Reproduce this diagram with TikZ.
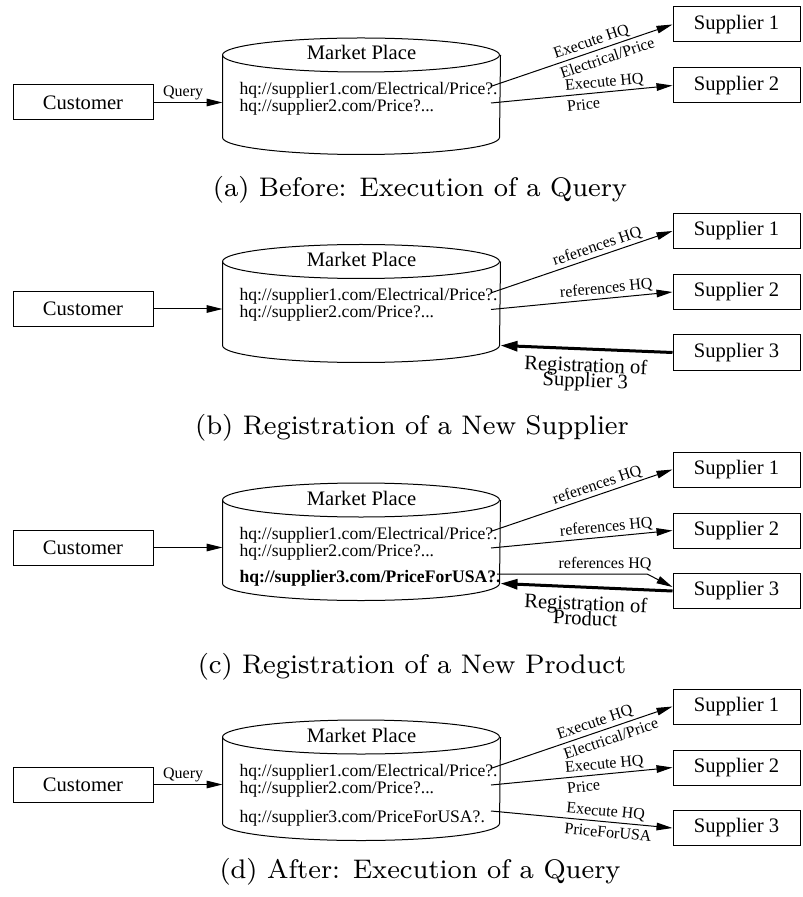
\documentclass[tikz,border=0pt]{standalone}
\usepackage{fontspec}
\newfontfamily\timesfam{Liberation Serif}
\usetikzlibrary{arrows.meta}
\newcommand\boxfont{\timesfam\fontsize{10.3}{12}\selectfont}
\newcommand\urlfont{\timesfam\fontsize{8.8}{10}\selectfont}
\newcommand\urlbold{\timesfam\bfseries\fontsize{8.8}{10}\selectfont}
\newcommand\lblfont{\timesfam\fontsize{8}{10.5}\selectfont}
\newcommand\capfont{\fontsize{8}{9.6}\selectfont}

\begin{document}
\begin{tikzpicture} [x=0.5pt, y=-0.5pt, line width=0.5pt]
    \tikzstyle{every node} = [inner sep=1pt]
    \tikzstyle{party} = [draw, font=\boxfont, minimum width=70pt, minimum height=17.5pt]
    \tikzstyle{supplier} = [draw, font=\boxfont, minimum width=63.5pt, minimum height=17.5pt]
    \tikzstyle{mkt} = [minimum width=138.5pt, inner sep=0pt]
    \tikzstyle{boxtext} = [font=\boxfont, anchor=base]
    \tikzstyle{url} = [font=\urlfont, anchor=base west, inner sep=0pt]
    \tikzstyle{lbl} = [font=\lblfont]
    \tikzstyle{lbl2} = [font=\lblfont, align=left, inner sep=0pt]
    \tikzstyle{regl} = [font=\boxfont, align=center]
    \tikzstyle{subcap} = [font=\capfont, scale=1.68, anchor=base]
    \tikzstyle{arr} = [-{Triangle[length=8pt, width=3.8pt]}]
    \tikzstyle{reg} = [line width=1.5pt, -{Triangle[length=8.5pt, width=5pt]}]
    \useasboundingbox (0,0) rectangle (802,897);

    % common parts of the four panels
    \foreach \p/\y/\h in {a/102.5/34.5, b/309/36, c/547.5/35.5, d/784.5/38.5} {
        \node [party] (cu\p) at (83,\y) {Customer};
        \node [mkt, minimum height={(\h+47)*0.5pt}] (mp\p) at (361.5,{\y+(\h-47)/2}) {};
        \draw (mp\p.north west) arc [start angle=180, end angle=-180, x radius=138.5, y radius=17];
        \draw (mp\p.north west) -- (mp\p.south west)
            arc [start angle=180, end angle=0, x radius=138.5, y radius=17] -- (mp\p.north east);
        \node [boxtext] (ti\p) at (361.5,\y-42.5) {Market Place};
        \node [url] (ua\p) at (239,\y-8) {hq://supplier1.com/Electrical/Price?.};
        \node [url] (ub\p) at (239,\y+9) {hq://supplier2.com/Price?...};
        \node [supplier] (sa\p) at (736.5,\y-78) {Supplier 1};
        \node [supplier] (sb\p) at (736.5,\y-17) {Supplier 2};
        \coordinate (oa\p) at (492,\y-16.5);
        \coordinate (ob\p) at (491,\y+0.5);
    }

    % (a)
    \draw [arr] (cua) -- node [lbl, above, pos=0.43] {Query} (cua -| mpa.west);
    \draw [arr] (oaa) -- node [lbl2, sloped, pos=0.62] {Execute HQ\\Electrical/Price} (saa.west);
    \draw [arr] (oba) -- node [lbl2, sloped, pos=0.63] {Execute HQ\\Price} (sba.west);
    \node [subcap] (capa) at (420,197) {(a) Before: Execution of a Query};

    % (b)
    \node [supplier] (scb) at (736.5,352.5) {Supplier 3};
    \draw [arr] (cub) -- (cub -| mpb.west);
    \draw [arr] (oab) -- node [lbl, sloped, above, pos=0.6] {references HQ} (sab.west);
    \draw [arr] (obb) -- node [lbl, sloped, above, pos=0.64] {references HQ} (sbb.west);
    \draw [reg] (scb.west) -- node [regl, sloped, below=2.5pt, pos=0.5] {Registration of\\[-4.5pt]Supplier 3} (mpb.south east);
    \node [subcap] (capb) at (412,434.5) {(b) Registration of a New Supplier};

    % (c)
    \node [supplier] (scc) at (736.5,591) {Supplier 3};
    \node [url, font=\urlbold] (ucc) at (239,582.5) {hq://supplier3.com/PriceForUSA?.};
    \coordinate (occ) at (497,574);
    \coordinate (kcc) at (647,574);
    \draw [arr] (cuc) -- (cuc -| mpc.west);
    \draw [arr] (oac) -- node [lbl, sloped, above, pos=0.6] {references HQ} (sac.west);
    \draw [arr] (obc) -- node [lbl, sloped, above, pos=0.64] {references HQ} (sbc.west);
    \draw [arr] (occ) -- node [lbl, above, pos=0.72] {references HQ} (kcc) -- ([yshift=2pt]scc.west);
    \draw [reg] (scc.west) -- node [regl, sloped, below=2.5pt, pos=0.5] {Registration of\\[-4.5pt]Product} (mpc.south east);
    \node [subcap] (capc) at (412,673) {(c) Registration of a New Product};

    % (d)
    \node [supplier] (scd) at (736.5,828) {Supplier 3};
    \node [url] (ucd) at (239,822) {hq://supplier3.com/PriceForUSA?.};
    \coordinate (ocd) at (491,811);
    \draw [arr] (cud) -- node [lbl, above, pos=0.43] {Query} (cud -| mpd.west);
    \draw [arr] (oad) -- node [lbl2, sloped, pos=0.64] {Execute HQ\\Electrical/Price} (sad.west);
    \draw [arr] (obd) -- node [lbl2, sloped, pos=0.63] {Execute HQ\\Price} (sbd.west);
    \draw [arr] (ocd) -- node [lbl2, sloped, pos=0.65] {Execute HQ\\PriceForUSA} (scd.west);
    \node [subcap] (capd) at (420,878) {(d) After: Execution of a Query};
\end{tikzpicture}
\end{document}
